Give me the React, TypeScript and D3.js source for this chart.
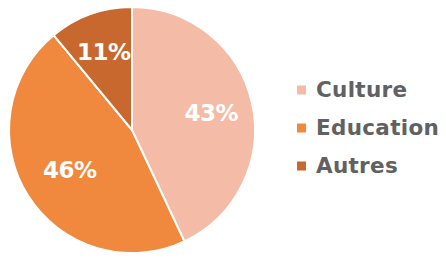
import React from "react";
import * as d3 from "d3";

const categories = ["Culture", "Education", "Autres"];
const values = [43, 46, 11];
const labels = ["43%", "46%", "11%"];
const colors = ["#F4BBA6", "#F0883D", "#C8672E"];

export default function App() {
  const width = 446;
  const height = 260;
  const cx = 132;
  const cy = 130;
  const r = 123;
  const pie = d3.pie<number>().sort(null).value((d) => d);
  const arcs = pie(values);
  const arc = d3.arc<d3.PieArcDatum<number>>().innerRadius(0).outerRadius(r);
  const labelOffsets = [0.66, 0.6, 0.68];
  const legendY = d3.scalePoint<string>().domain(categories).range([89, 165]);
  return (
    <svg width={width} height={height} style={{ position: "absolute", left: 0, top: 0 }}>
      <rect width={width} height={height} fill="#fff" />
      <g transform={`translate(${cx},${cy})`}>
        {arcs.map((a, i) => (
          <path key={i} d={arc(a) || ""} fill={colors[i]} stroke="#fff" strokeWidth={2} />
        ))}
        {arcs.map((a, i) => {
          const la = d3.arc<d3.PieArcDatum<number>>().innerRadius(r * labelOffsets[i]).outerRadius(r * labelOffsets[i]);
          const [x, y] = la.centroid(a);
          return (
            <text key={i} x={x} y={y} dy="0.36em" textAnchor="middle" fill="#fff"
              fontFamily="'DejaVu Sans', sans-serif" fontWeight={700} fontSize={23} letterSpacing={-0.5}>
              {labels[i]}
            </text>
          );
        })}
      </g>
      {categories.map((c, i) => (
        <g key={c} transform={`translate(297,${legendY(c)})`}>
          <rect x={0} y={-3.5} width={9} height={9} fill={colors[i]} />
          <text x={19} y={0} dy="0.36em" fill="#616161" fontFamily="'DejaVu Sans', sans-serif" fontWeight={700} fontSize={21.5} letterSpacing={0.3}>
            {c}
          </text>
        </g>
      ))}
    </svg>
  );
}
